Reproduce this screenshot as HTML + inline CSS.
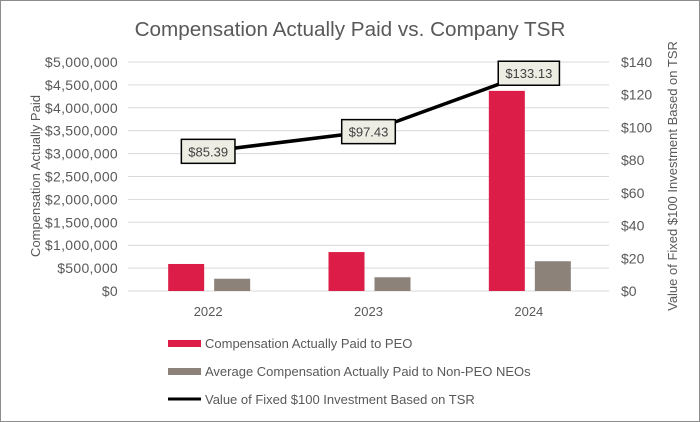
<!DOCTYPE html>
<html><head><meta charset="utf-8"><style>
body{margin:0;background:#fff;}
svg{display:block;font-family:"Liberation Sans",sans-serif;}
</style></head><body>
<svg id="c" width="700" height="422" viewBox="0 0 700 422">
<rect x="0.5" y="0.5" width="699" height="421" fill="#fff" stroke="#8c8c8c"/>
<text x="350" y="36" text-anchor="middle" font-size="20.7" fill="#595959">Compensation Actually Paid vs. Company TSR</text>
<g id="grid"></g><g id="bars"></g><g id="axes"></g><g id="line"></g>
<text transform="translate(40,176) rotate(-90)" text-anchor="middle" font-size="13" fill="#595959">Compensation Actually Paid</text>
<text transform="translate(677,176) rotate(-90)" text-anchor="middle" font-size="13" fill="#595959">Value of Fixed $100 Investment Based on TSR</text>
<g>
<rect x="168" y="340" width="33" height="7" fill="#dc1d47"/>
<text x="205" y="348" font-size="13" fill="#595959">Compensation Actually Paid to PEO</text>
<rect x="168" y="368" width="33" height="7" fill="#8c8279"/>
<text x="205" y="376" font-size="13" fill="#595959">Average Compensation Actually Paid to Non-PEO NEOs</text>
<line x1="168" y1="399" x2="201" y2="399" stroke="#000" stroke-width="3"/>
<text x="205" y="404" font-size="13" fill="#595959">Value of Fixed $100 Investment Based on TSR</text>
</g>
</svg>
<script>
const categories=["2022","2023","2024"];
const peoValues=[590000,850000,4370000];
const neoValues=[268000,300000,650000];
const tsrValues=[85.39,97.43,133.13];
const tsrLabels=["$85.39","$97.43","$133.13"];
const leftTicks=[0,500000,1000000,1500000,2000000,2500000,3000000,3500000,4000000,4500000,5000000];
const rightTicks=[0,20,40,60,80,100,120,140];
const NS="http://www.w3.org/2000/svg";
const X0=128,X1=609,Y0=291,Y1=62;
const bw=(X1-X0)/categories.length;
const yL=v=>Y0-(v/5000000)*(Y0-Y1);
const yR=v=>Y0-(v/140)*(Y0-Y1);
const cx=i=>X0+bw*(i+0.5);
function mk(t,a,p){const e=document.createElementNS(NS,t);for(const k in a)e.setAttribute(k,a[k]);p.appendChild(e);return e;}
const grid=document.getElementById('grid'),bars=document.getElementById('bars'),axes=document.getElementById('axes'),line=document.getElementById('line');
leftTicks.forEach(v=>{
 const l=mk('line',{x1:X0,x2:X1,y1:yL(v),y2:yL(v),stroke:'#d9d9d9','stroke-width':1},grid);
 
 
 const t=mk('text',{x:X0-10,y:yL(v)+5,'text-anchor':'end','font-size':14,'letter-spacing':0.3,fill:'#595959'},axes);
 t.textContent='$'+v.toLocaleString('en-US');
 
 
});
rightTicks.forEach(v=>{
 const t=mk('text',{x:621,y:yR(v)+5,'font-size':14,fill:'#595959'},axes);
 t.textContent='$'+v;
 
 
});
categories.forEach((c,i)=>{
 const r=mk('rect',{x:cx(i)-40,y:yL(peoValues[i]),width:36,height:Y0-yL(peoValues[i]),fill:'#dc1d47'},bars);
 
 
 const g=mk('rect',{x:cx(i)+6,y:yL(neoValues[i]),width:36,height:Y0-yL(neoValues[i]),fill:'#8c8279'},bars);
 
 
 const t=mk('text',{x:cx(i),y:316,'text-anchor':'middle','font-size':13,fill:'#595959'},axes);
 t.textContent=c;
 
 
});
const pl=mk('polyline',{points:tsrValues.map((v,i)=>cx(i)+','+yR(v)).join(' '),fill:'none',stroke:'#000','stroke-width':3.5},line);


tsrValues.forEach((v,i)=>{
 const w=tsrLabels[i].length*7.6+8;
 const b=mk('rect',{x:cx(i)-w/2,y:yR(v)-12,width:w,height:24,fill:'#eeede3',stroke:'#000','stroke-width':1.5},line);
 
 
 const t=mk('text',{x:cx(i),y:yR(v)+5,'text-anchor':'middle','font-size':13,fill:'#404040'},line);
 t.textContent=tsrLabels[i];
 
 
});
</script>
</body></html>
